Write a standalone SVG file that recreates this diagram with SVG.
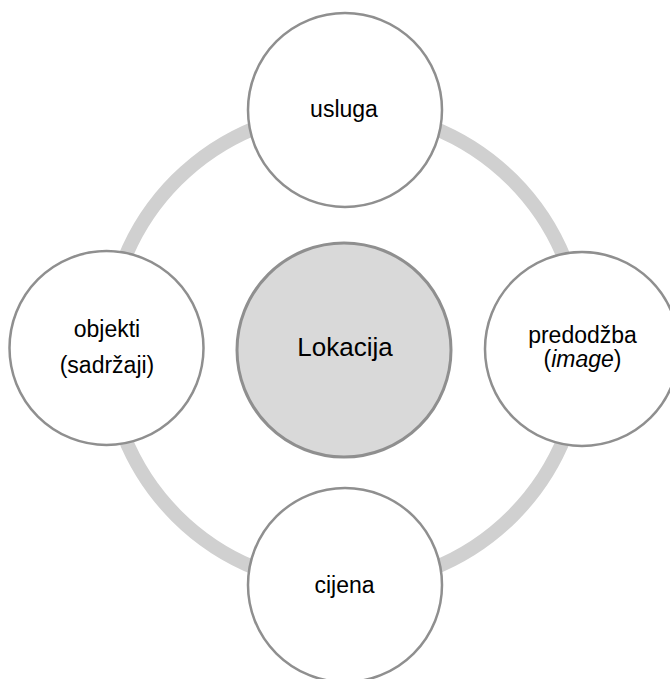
<svg xmlns="http://www.w3.org/2000/svg" width="670" height="679" viewBox="0 0 670 679">
<style>
.sat{fill:#ffffff;stroke:#8f8f8f;stroke-width:2.5}
.ctr{fill:#d9d9d9;stroke:#8f8f8f;stroke-width:3}
.t{font-family:"Liberation Sans",Arial,sans-serif;font-size:23px;fill:#000;text-anchor:middle}
.tc{font-family:"Liberation Sans",Arial,sans-serif;font-size:26px;fill:#000;text-anchor:middle}
</style>
<rect width="670" height="679" fill="#ffffff"/>
<g id="connectors">
<circle cx="344.5" cy="348" r="237.5" fill="none" stroke="#d0d0d0" stroke-width="14"/>
</g>
<g id="node-center">
<circle class="ctr" cx="344" cy="350" r="107"/>
<text class="tc" x="345" y="356">Lokacija</text>
</g>
<g id="node-usluga">
<circle class="sat" cx="345" cy="110" r="97"/>
<text class="t" x="344" y="117">usluga</text>
</g>
<g id="node-objekti">
<circle class="sat" cx="106.5" cy="348" r="97"/>
<text class="t" x="107" y="337">objekti</text>
<text class="t" x="107" y="373">(sadržaji)</text>
</g>
<g id="node-predodzba">
<circle class="sat" cx="582" cy="349" r="97"/>
<text class="t" x="582.5" y="343">predodžba</text>
<text class="t" x="582.5" y="367">(<tspan font-style="italic">image</tspan>)</text>
</g>
<g id="node-cijena">
<circle class="sat" cx="345" cy="585" r="97"/>
<text class="t" x="344.5" y="593">cijena</text>
</g>
</svg>
